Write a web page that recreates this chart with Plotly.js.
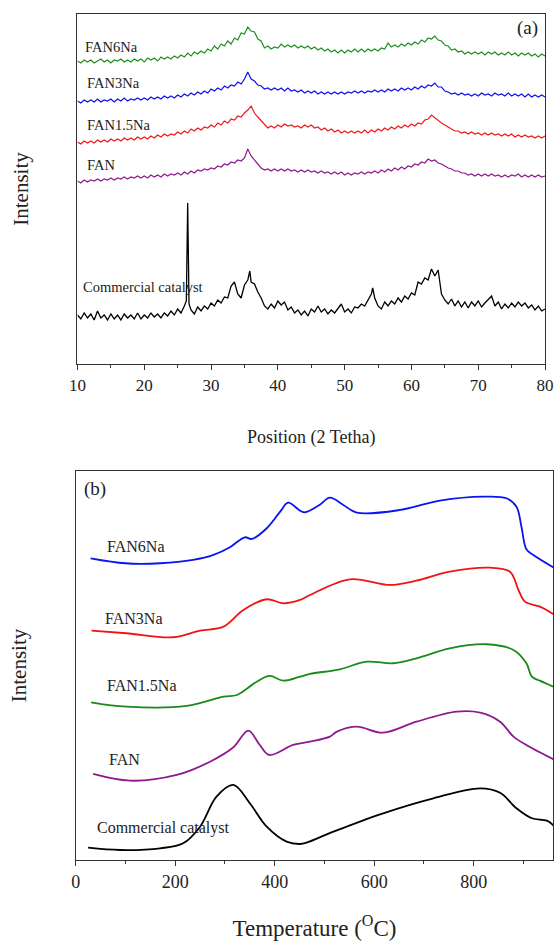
<!DOCTYPE html>
<html>
<head>
<meta charset="utf-8">
<script src="https://cdn.plot.ly/plotly-3.0.1.min.js"></script>
<style>html,body{margin:0;padding:0;background:#fff;}#chart{width:555px;height:941px;}</style>
</head>
<body>
<div id="chart"></div>
<script>
// ---------- Panel (a): XRD patterns (intensity, arbitrary units, offset-stacked) ----------
const xrdTheta = [
10,10.5,11,11.5,12,12.5,13,13.5,14,14.5,
15,15.5,16,16.5,17,17.5,18,18.5,19,19.5,
20,20.5,21,21.5,22,22.5,23,23.5,24,24.5,
25,25.5,26,26.5,27,27.5,28,28.5,29,29.5,
30,30.5,31,31.5,32,32.5,33,33.5,34,34.5,
35,35.5,36,36.5,37,37.5,38,38.5,39,39.5,
40,40.5,41,41.5,42,42.5,43,43.5,44,44.5,
45,45.5,46,46.5,47,47.5,48,48.5,49,49.5,
50,50.5,51,51.5,52,52.5,53,53.5,54,54.5,
55,55.5,56,56.5,57,57.5,58,58.5,59,59.5,
60,60.5,61,61.5,62,62.5,63,63.5,64,64.5,
65,65.5,66,66.5,67,67.5,68,68.5,69,69.5,
70,70.5,71,71.5,72,72.5,73,73.5,74,74.5,
75,75.5,76,76.5,77,77.5,78,78.5,79,79.5,
80];

const xrdFAN6Na = [
303,301,304,302,304,301,303,305,302,304,
301,304,303,305,302,304,302,305,303,305,
302,306,304,306,303,307,305,307,305,308,
306,309,307,311,308,312,310,313,311,315,
313,318,315,320,318,323,320,326,324,331,
330,337,333,332,325,323,316,318,315,317,
316,320,317,319,317,319,316,318,316,318,
315,317,314,316,313,315,312,314,311,314,
311,314,312,315,312,315,312,315,313,315,
313,316,315,321,317,319,317,320,318,321,
319,322,320,324,322,326,325,328,324,323,
319,318,314,315,312,313,310,312,310,312,
310,312,309,312,310,312,309,311,309,312,
309,311,308,311,309,311,308,310,307,310,
308];

const xrdFAN3Na = [
263,261,264,262,264,262,265,262,264,263,
265,262,265,263,266,263,265,264,266,264,
266,264,267,265,267,265,268,266,268,266,
269,267,270,268,271,269,272,270,273,271,
275,273,276,274,278,276,279,278,282,280,
285,292,285,283,279,278,275,276,274,276,
274,276,273,276,273,274,272,274,271,273,
271,273,270,272,270,272,270,272,270,272,
270,272,271,273,271,273,271,273,272,274,
272,274,272,275,273,275,273,276,274,276,
274,277,275,278,276,279,278,281,277,277,
273,272,270,271,269,271,269,270,268,270,
268,271,269,270,268,271,269,270,268,271,
268,270,268,270,267,270,267,269,267,269,
267];

const xrdFAN15Na = [
222,220,223,221,223,221,224,222,224,222,
225,223,225,223,226,224,226,224,227,225,
227,225,228,226,229,227,230,228,230,229,
232,230,233,231,235,233,236,234,237,236,
239,237,241,239,243,241,245,244,248,247,
251,254,258,251,247,243,239,236,238,236,
239,237,240,238,239,237,238,236,239,237,
239,236,237,234,236,233,235,232,234,231,
233,231,233,231,233,231,234,231,234,232,
235,233,236,234,237,235,238,236,239,237,
240,238,241,240,244,245,249,246,244,241,
239,237,235,233,233,231,232,230,232,230,
231,229,231,229,231,229,230,228,230,228,
230,227,229,227,229,227,228,226,228,226,
228];

const xrdFAN = [
183,181,184,182,184,183,185,183,185,184,
186,184,186,185,187,185,187,186,188,186,
188,186,189,187,189,187,190,188,190,189,
191,189,192,190,193,191,194,193,195,194,
196,195,198,197,200,199,202,201,204,203,
206,215,208,204,200,196,194,195,193,195,
193,195,193,195,193,194,192,194,192,194,
192,193,191,193,191,192,190,192,190,192,
189,191,189,191,190,192,190,192,191,193,
191,194,192,195,193,196,194,197,195,198,
197,200,199,202,201,205,203,204,201,200,
198,196,195,193,193,191,191,189,190,188,
190,188,190,188,190,188,189,187,189,187,
189,188,190,187,189,187,189,187,189,187,
188];

const xrdCommTheta = [
10,10.5,11,11.5,12,12.5,13,13.5,14,14.5,
15,15.5,16,16.5,17,17.5,18,18.5,19,19.5,
20,20.5,21,21.5,22,22.5,23,23.5,24,24.5,
25,25.5,26,26.3,26.5,26.7,27,27.5,28,28.5,29,29.5,
30,30.5,31,31.5,32,32.5,33,33.5,34,34.5,
35,35.5,35.8,36,36.5,37,37.5,38,38.5,39,39.5,
40,40.5,41,41.5,42,42.5,43,43.5,44,44.5,
45,45.5,46,46.5,47,47.5,48,48.5,49,49.5,
50,50.5,51,51.5,52,52.5,53,53.5,54,54.2,54.5,
55,55.5,56,56.5,57,57.5,58,58.5,59,59.5,
60,60.5,61,61.5,62,62.5,63,63.5,64,64.5,
65,65.5,66,66.5,67,67.5,68,68.5,69,69.5,
70,70.5,71,71.5,72,72.5,73,73.5,74,74.5,
75,75.5,76,76.5,77,77.5,78,78.5,79,79.5,
80];

const xrdCommercial = [
49,45,51,46,50,44,53,46,49,44,
50,45,49,44,50,46,49,45,51,45,
49,46,51,47,50,46,51,48,53,49,
55,51,58,63,161,60,54,50,57,53,58,55,
61,58,64,61,67,66,78,82,70,66,
79,84,93,82,80,72,66,58,55,60,56,
63,59,62,54,57,51,54,49,53,48,
55,52,58,52,55,50,54,51,55,60,
52,55,51,57,56,60,58,64,70,76,66,
58,55,62,58,63,60,66,62,68,65,
71,69,82,80,86,84,95,88,94,70,
64,60,65,58,63,57,62,56,62,58,
63,57,61,64,68,58,62,55,60,56,
61,57,62,58,61,56,59,54,58,53,
55];

const xrdLabels = ["FAN6Na", "FAN3Na", "FAN1.5Na", "FAN", "Commercial catalyst"];

// ---------- Panel (b): H2-TPR profiles (intensity, arbitrary units, offset-stacked) ----------
const tprT_FAN6Na = [30,100,170,236,277,310,340,354,384,411,427,451,461,490,511,538,565,652,732,819,866,886,896,906,920,963];
const tpr_FAN6Na  = [301.7,296.7,296.7,300,305,312.7,322.7,321,331.7,348.3,357.3,349.3,347.7,355,362.3,355,347.3,350,359.3,363.3,361.7,353.3,333.3,310.7,305,291.7];

const tprT_FAN3Na = [32,102,196,250,297,337,384,417,451,471,551,632,685,752,833,873,890,903,933,963];
const tpr_FAN3Na  = [229.3,226.7,222.7,229.3,233.3,250,260.7,256.7,260,265,280.7,275,279.3,288.3,292.3,288.3,270,258.3,253.3,245];

const tprT_FAN15Na = [31,102,223,297,324,364,390,417,451,471,531,585,638,685,752,826,880,906,917,933,963];
const tpr_FAN15Na  = [157.7,153.3,154,163.3,165,178.3,184,179.3,183.3,186,190.7,198.3,196.7,201.7,211.7,215.7,210,196.7,183.3,179.3,172.7];

const tprT_FAN = [35,109,203,270,317,347,370,389,437,471,511,525,565,618,685,766,813,853,880,906,963];
const tpr_FAN  = [86,79.3,85,98.3,112.7,129.3,115,105,115,118.3,123.3,128.3,133.3,127.3,138.3,148.3,147.3,138.3,123.3,115,100];

const tprT_Comm = [25,89,170,216,250,283,317,350,384,424,451,464,518,618,719,813,853,886,917,947,963];
const tpr_Comm  = [12.3,10,11.7,16.7,33.3,63.3,75,56.7,33.3,18.3,16,17.3,28.3,46.7,61.7,71.7,67.3,51.7,41.7,39.3,33.3];

const colors = {FAN6Na: "#1f8f1f", FAN3Na: "#1010f0", FAN15Na: "#f01818", FAN: "#8e1a8e", Comm: "#000000",
                bFAN6Na: "#0a14f0", bFAN3Na: "#f01414", bFAN15Na: "#1a8a1a"};

const serif = "Liberation Serif, Times New Roman, serif";

const traces = [
  {x: xrdTheta, y: xrdFAN6Na, xaxis: "x", yaxis: "y", mode: "lines", line: {color: colors.FAN6Na, width: 1.2}, name: "FAN6Na"},
  {x: xrdTheta, y: xrdFAN3Na, xaxis: "x", yaxis: "y", mode: "lines", line: {color: colors.FAN3Na, width: 1.2}, name: "FAN3Na"},
  {x: xrdTheta, y: xrdFAN15Na, xaxis: "x", yaxis: "y", mode: "lines", line: {color: colors.FAN15Na, width: 1.2}, name: "FAN1.5Na"},
  {x: xrdTheta, y: xrdFAN, xaxis: "x", yaxis: "y", mode: "lines", line: {color: colors.FAN, width: 1.2}, name: "FAN"},
  {x: xrdCommTheta, y: xrdCommercial, xaxis: "x", yaxis: "y", mode: "lines", line: {color: colors.Comm, width: 1.3}, name: "Commercial catalyst"},

  {x: tprT_FAN6Na, y: tpr_FAN6Na, xaxis: "x2", yaxis: "y2", mode: "lines", line: {color: colors.bFAN6Na, width: 1.8, shape: "spline", smoothing: 1}, name: "FAN6Na"},
  {x: tprT_FAN3Na, y: tpr_FAN3Na, xaxis: "x2", yaxis: "y2", mode: "lines", line: {color: colors.bFAN3Na, width: 1.8, shape: "spline", smoothing: 1}, name: "FAN3Na"},
  {x: tprT_FAN15Na, y: tpr_FAN15Na, xaxis: "x2", yaxis: "y2", mode: "lines", line: {color: colors.bFAN15Na, width: 1.8, shape: "spline", smoothing: 1}, name: "FAN1.5Na"},
  {x: tprT_FAN, y: tpr_FAN, xaxis: "x2", yaxis: "y2", mode: "lines", line: {color: colors.FAN, width: 1.8, shape: "spline", smoothing: 1}, name: "FAN"},
  {x: tprT_Comm, y: tpr_Comm, xaxis: "x2", yaxis: "y2", mode: "lines", line: {color: colors.Comm, width: 1.8, shape: "spline", smoothing: 1}, name: "Commercial catalyst"}
];

const axisLine = {showline: true, linecolor: "#333", linewidth: 1.2, mirror: true, zeroline: false, showgrid: false};

function ann(text, x, y, xref, yref, size, xanchor) {
  return {text: text, x: x, y: y, xref: xref, yref: yref, showarrow: false, xanchor: xanchor || "left", yanchor: "middle",
          font: {family: serif, size: size, color: "#222"}};
}

const layout = {
  width: 555, height: 941,
  margin: {l: 0, r: 0, t: 0, b: 0},
  paper_bgcolor: "#fff", plot_bgcolor: "#fff",
  showlegend: false,
  font: {family: serif, color: "#222"},
  xaxis: Object.assign({}, axisLine, {
    domain: [0.1396, 0.982], anchor: "y", range: [10, 80],
    tickmode: "linear", tick0: 10, dtick: 10, ticks: "outside", ticklen: 5, tickcolor: "#333",
    minor: {dtick: 5, ticks: "outside", ticklen: 3, tickcolor: "#333"},
    tickfont: {family: serif, size: 17, color: "#222"},
    title: {text: "Position (2 Tetha)", font: {family: serif, size: 18, color: "#222"}, standoff: 36}
  }),
  yaxis: Object.assign({}, axisLine, {
    domain: [0.6132, 0.9851], anchor: "x", range: [0, 350],
    showticklabels: false, ticks: "",
    title: {text: "Intensity", font: {family: serif, size: 21, color: "#222"}, standoff: 42}
  }),
  xaxis2: Object.assign({}, axisLine, {
    domain: [0.1364, 0.9969], anchor: "y2", range: [0, 960],
    tickmode: "linear", tick0: 0, dtick: 200, ticks: "outside", ticklen: 5, tickcolor: "#333",
    minor: {dtick: 100, ticks: "outside", ticklen: 3, tickcolor: "#333"},
    tickfont: {family: serif, size: 18, color: "#222"},
    title: {text: "Temperature (<sup>O</sup>C)", font: {family: serif, size: 23, color: "#222"}, standoff: 31}
  }),
  yaxis2: Object.assign({}, axisLine, {
    domain: [0.0861, 0.4995], anchor: "x2", range: [0, 389],
    showticklabels: false, ticks: "",
    title: {text: "Intensity", font: {family: serif, size: 21, color: "#222"}, standoff: 42}
  }),
  annotations: [
    ann(xrdLabels[0], 10.8, 317, "x", "y", 14.5),
    ann(xrdLabels[1], 11.1, 281, "x", "y", 14.5),
    ann(xrdLabels[2], 11.1, 239, "x", "y", 14.5),
    ann(xrdLabels[3], 11.1, 199, "x", "y", 14.5),
    ann(xrdLabels[4], 10.6, 77, "x", "y", 14.5),
    ann("(a)", 79.3, 336, "x", "y", 19, "right"),
    ann(xrdLabels[0], 59, 313, "x2", "y2", 16),
    ann(xrdLabels[1], 55, 241, "x2", "y2", 16),
    ann(xrdLabels[2], 59, 174, "x2", "y2", 16),
    ann(xrdLabels[3], 62, 100, "x2", "y2", 16),
    ann(xrdLabels[4], 39, 32, "x2", "y2", 16),
    ann("(b)", 12, 371, "x2", "y2", 19)
  ]
};

Plotly.newPlot("chart", traces, layout, {staticPlot: true, displayModeBar: false});
</script>
</body>
</html>
